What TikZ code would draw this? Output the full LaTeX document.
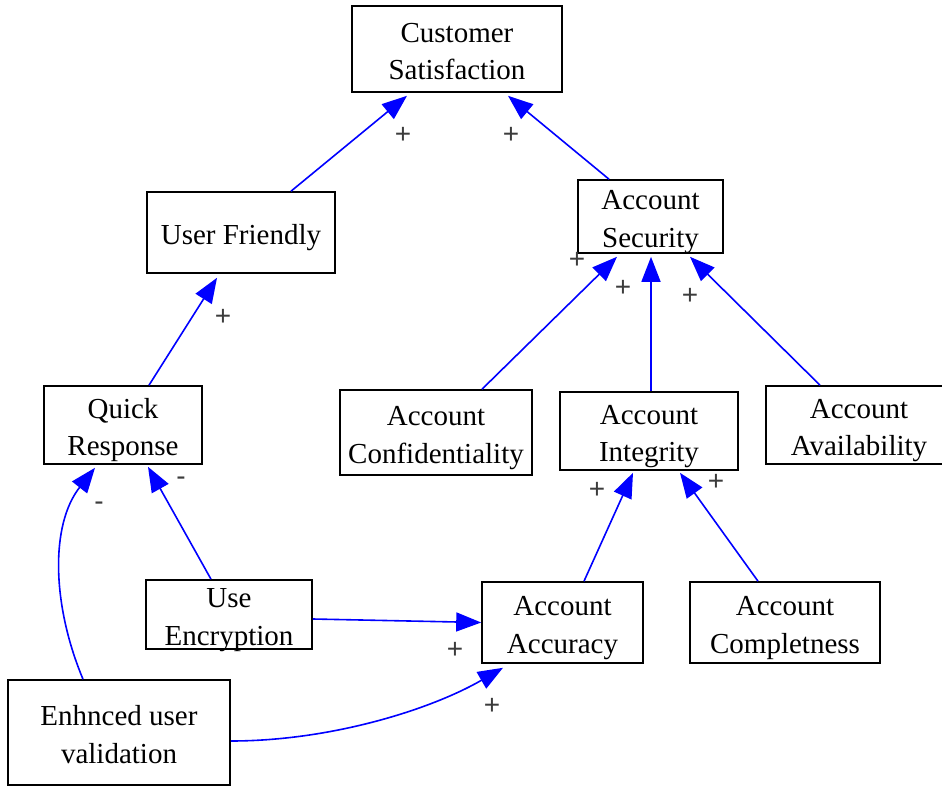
\documentclass[tikz,border=0pt]{standalone}
\usepackage{fontspec}
\setmainfont{Liberation Serif}
\newfontfamily\labelfont{Liberation Sans}
\usetikzlibrary{arrows.meta}
\definecolor{edgeblue}{RGB}{0,0,255}
\definecolor{labelgray}{RGB}{60,60,60}
% fixed struts above the first line and below the last one, so the text
% sits on font metrics rather than on the glyphs it happens to contain
\newcommand\firstlinestrut{\rule{0pt}{31pt}}
\newcommand\lastlinestrut{\rule[-7pt]{0pt}{7pt}}
\newcommand\boxtext[1]{\firstlinestrut#1\lastlinestrut}
\tikzset{
  box/.style={draw=black, line width=1.6pt, fill=white,
    inner xsep=0pt, inner ysep=-5pt,
    align=center, font=\fontsize{29}{37.3}\selectfont},
  link/.style={draw=edgeblue, line width=1.6pt,
    -{Triangle[length=25pt,width=19pt]}},
  sign/.style={font=\labelfont\fontsize{28}{30}\selectfont, text=labelgray, inner sep=0pt}
}
\begin{document}
\begin{tikzpicture}[x=1pt,y=-1pt]
\useasboundingbox (0,0) rectangle (942,786);

% factors
\node[box, minimum width=210pt, minimum height=86pt]  (cs)    at (457,49)      {\boxtext{Customer\\Satisfaction}};
\node[box, minimum width=188pt, minimum height=81pt]  (uf)    at (241,232.5)   {\boxtext{User Friendly}};
\node[box, minimum width=145pt, minimum height=73pt]  (as)    at (650.5,216.5) {\boxtext{Account\\Security}};
\node[box, minimum width=158pt, minimum height=78pt]  (qr)    at (123,425)     {\boxtext{Quick\\Response}};
\node[box, minimum width=192pt, minimum height=85pt]  (aconf) at (436,432.5)   {\boxtext{Account\\Confidentiality}};
\node[box, minimum width=178pt, minimum height=78pt]  (ai)    at (649,431)     {\boxtext{Account\\Integrity}};
\node[box, minimum width=186pt, minimum height=78pt]  (aav)   at (859,425)     {\boxtext{Account\\Availability}};
\node[box, minimum width=166pt, minimum height=69pt]  (ue)    at (229,614.5)   {\boxtext{Use\\Encryption}};
\node[box, minimum width=161pt, minimum height=81pt]  (aa)    at (562.5,622.5) {\boxtext{Account\\Accuracy}};
\node[box, minimum width=190pt, minimum height=81pt]  (acomp) at (785,622.5)   {\boxtext{Account\\Completness}};
\node[box, minimum width=222pt, minimum height=105pt] (euv)   at (119,732.5)   {\boxtext{Enhnced user\\validation}};

% influences
\draw[link] ([xshift=50pt]uf.north)     -- ([xshift=-50pt,yshift=-3pt]cs.south);
\draw[link] ([xshift=-41.5pt]as.north)  -- ([xshift=51pt,yshift=-3pt]cs.south);
\draw[link] ([xshift=26pt]qr.north)     -- ([xshift=-24pt,yshift=-4pt]uf.south);
\draw[link] ([xshift=46pt]aconf.north)  -- ([xshift=-33.5pt,yshift=-3pt]as.south);
\draw[link] ([xshift=2pt]ai.north)      -- ([xshift=0.5pt,yshift=-3pt]as.south);
\draw[link] ([xshift=-39pt]aav.north)   -- ([xshift=39.5pt,yshift=-3pt]as.south);
\draw[link] ([xshift=21.5pt]aa.north)   -- ([xshift=-16pt,yshift=-2pt]ai.south);
\draw[link] ([xshift=-27pt]acomp.north) -- ([xshift=31pt,yshift=-2pt]ai.south);
\draw[link] ([xshift=-18pt]ue.north)    -- ([xshift=25pt,yshift=-2pt]qr.south);
\draw[link] ([yshift=-4.5pt]ue.east)    -- (aa.west);
\draw[link] ([xshift=-36pt]euv.north) .. controls (52,605) and (50,525) .. ([xshift=-28pt,yshift=-3pt]qr.south);
\draw[link] ([yshift=-8.5pt]euv.east) .. controls (330,741) and (430,710) .. ([xshift=-59.5pt,yshift=-4pt]aa.south);

% polarity signs
\node[sign] (s1)  at (403,135) {+};
\node[sign] (s2)  at (511,135) {+};
\node[sign] (s3)  at (223,317) {+};
\node[sign] (s4)  at (577,260) {+};
\node[sign] (s5)  at (623,288) {+};
\node[sign] (s6)  at (690,296) {+};
\node[sign] (s7)  at (597,490) {+};
\node[sign] (s8)  at (716,482) {+};
\node[sign] (s9)  at (181,481) {-};
\node[sign] (s10) at (455,650) {+};
\node[sign] (s11) at (99,506)  {-};
\node[sign] (s12) at (492,706) {+};
\end{tikzpicture}
\end{document}
